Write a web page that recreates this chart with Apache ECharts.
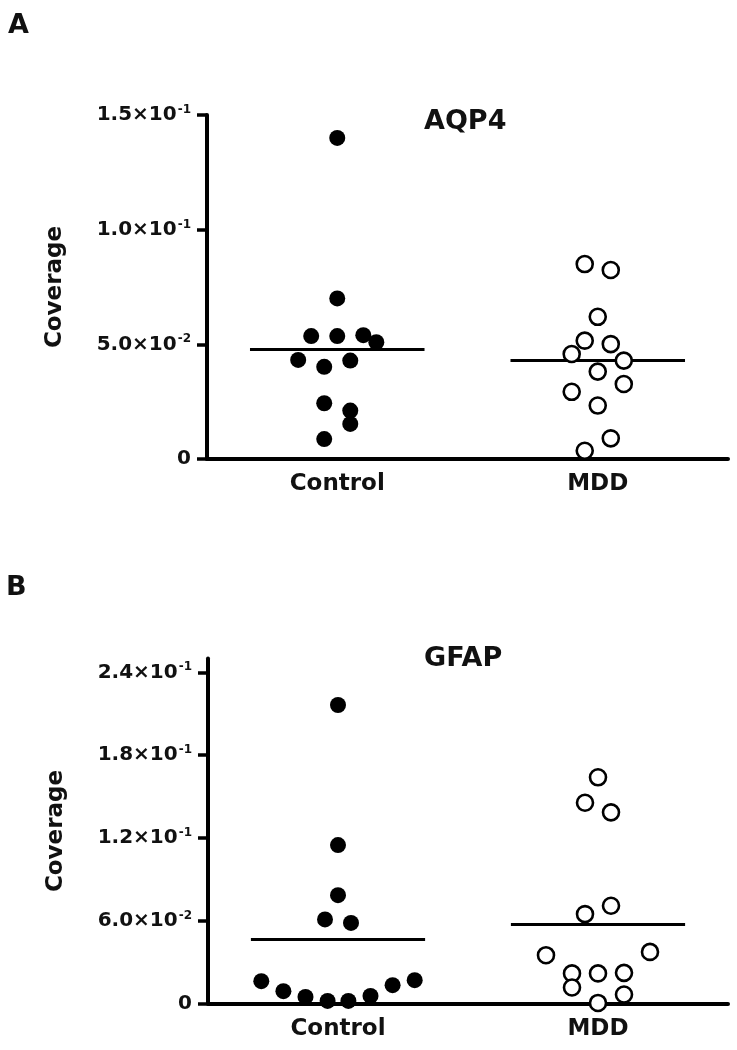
<!DOCTYPE html>
<html><head><meta charset="utf-8">
<script src="https://cdn.jsdelivr.net/npm/echarts@6/dist/echarts.min.js"></script>
<style>html,body{margin:0;padding:0;background:#fff}#c{width:737px;height:1050px}</style>
</head><body><div id="c"></div>
<script>
// ---- data ----
const groups = ['Control', 'MDD'];
const aqp4Control = [0.140, 0.070, 0.0536, 0.0536, 0.0540, 0.0509, 0.0432, 0.0402, 0.0429, 0.0243, 0.0211, 0.0153, 0.0087];
const aqp4MDD = [0.0850, 0.0824, 0.0620, 0.0516, 0.0501, 0.0458, 0.0429, 0.0381, 0.0327, 0.0293, 0.0233, 0.0090, 0.0036];
const gfapControl = [0.2163, 0.1148, 0.0785, 0.0609, 0.0584, 0.0162, 0.0089, 0.0048, 0.0019, 0.0019, 0.0055, 0.0133, 0.0169];
const gfapMDD = [0.1639, 0.1455, 0.1385, 0.0708, 0.0648, 0.0350, 0.0374, 0.0218, 0.0218, 0.0222, 0.0116, 0.0065, 0.0004];
const aqp4Means = [0.0478, 0.0429];
const gfapMeans = [0.0464, 0.0573];
const aqp4TickValues = [0, 0.05, 0.10, 0.15];
const aqp4TickMantissa = ['0', '5.0×10', '1.0×10', '1.5×10'];
const aqp4TickExponent = ['', '-2', '-1', '-1'];
const gfapTickValues = [0, 0.06, 0.12, 0.18, 0.24];
const gfapTickMantissa = ['0', '6.0×10', '1.2×10', '1.8×10', '2.4×10'];
const gfapTickExponent = ['', '-2', '-1', '-1', '-1'];
// horizontal spread of the dot plot (fraction of a category width)
const aqp4ControlJitter = [0, 0, -0.1, 0, 0.1, 0.15, -0.15, -0.05, 0.05, -0.05, 0.05, 0.05, -0.05];
const aqp4MDDJitter = [-0.05, 0.05, 0, -0.05, 0.05, -0.1, 0.1, 0, 0.1, -0.1, 0, 0.05, -0.05];
const gfapControlJitter = [0, 0, 0, -0.05, 0.05, -0.295, -0.21, -0.125, -0.04, 0.04, 0.125, 0.21, 0.295];
const gfapMDDJitter = [0, -0.05, 0.05, 0.05, -0.05, -0.2, 0.2, -0.1, 0, 0.1, -0.1, 0.1, 0];

// ---- styling / layout ----
const FONT = 'DejaVu Sans';
const INK = '#000';
const TXT = '#111';
const MEAN_HALF = 0.335;

function tickFormatter(vals, mant, expo) {
  return function (v) {
    for (let i = 0; i < vals.length; i++) {
      if (Math.abs(vals[i] - v) < 1e-9) {
        return expo[i] ? '{m|' + mant[i] + '}{s|' + expo[i] + '}' : '{m|' + mant[i] + '}';
      }
    }
    return '';
  };
}
function xAxisFor(gi) {
  return {
    type: 'value', gridIndex: gi, min: 0, max: 2,
    axisLine: { show: true, onZero: false, lineStyle: { color: INK, width: 4 } },
    axisTick: { show: false },
    splitLine: { show: false },
    axisLabel: {
      customValues: [0.5, 1.5],
      formatter: v => groups[Math.round(v - 0.5)],
      fontFamily: FONT, fontWeight: 'bold', fontSize: 23, color: TXT, margin: 14
    }
  };
}
function yAxisFor(gi, max, vals, mant, expo) {
  return {
    type: 'value', gridIndex: gi, min: 0, max: max,
    axisLine: { show: true, lineStyle: { color: INK, width: 4 } },
    axisTick: { show: true, length: 10, customValues: vals, lineStyle: { color: INK, width: 3.5 } },
    splitLine: { show: false },
    axisLabel: {
      customValues: vals, formatter: tickFormatter(vals, mant, expo),
      margin: 16,
      rich: {
        m: { fontFamily: FONT, fontWeight: 'bold', fontSize: 20, color: TXT, lineHeight: 22 },
        s: { fontFamily: FONT, fontWeight: 'bold', fontSize: 12, color: TXT, lineHeight: 12, verticalAlign: 'top', padding: [0, 0, 0, 1] }
      }
    },
    name: 'Coverage', nameLocation: 'middle', nameRotate: 90, nameGap: 140,
    nameTextStyle: { fontFamily: FONT, fontWeight: 'bold', fontSize: 23, color: TXT }
  };
}
function meanSeries(gi, means) {
  return means.map((m, k) => {
    const c = k + 0.5;
    return {
      type: 'line', xAxisIndex: gi, yAxisIndex: gi, z: 1, silent: true,
      symbol: 'none', lineStyle: { color: INK, width: 3, opacity: 1 },
      data: [[c - MEAN_HALF, m], [c + MEAN_HALF, m]]
    };
  });
}
function dots(gi, vals, jit, k, filled) {
  return {
    type: 'scatter', xAxisIndex: gi, yAxisIndex: gi, z: 3, silent: true,
    symbol: 'circle', symbolSize: 16,
    itemStyle: filled ? { color: INK, opacity: 1 } : { color: '#fff', borderColor: INK, borderWidth: 2.6, opacity: 1 },
    data: vals.map((v, i) => [k + 0.5 + jit[i], v])
  };
}

const chart = echarts.init(document.getElementById('c'), null, { renderer: 'canvas' });
const titleStyle = (fs) => ({ fontFamily: FONT, fontWeight: 'bold', fontSize: fs, color: TXT });
chart.setOption({
  animation: false,
  backgroundColor: '#fff',
  title: [
    { text: 'A', left: 8, top: 12, padding: 0, textStyle: titleStyle(27) },
    { text: 'AQP4', left: 424, top: 108, padding: 0, textStyle: titleStyle(27) },
    { text: 'B', left: 6, top: 574, padding: 0, textStyle: titleStyle(27) },
    { text: 'GFAP', left: 424, top: 645, padding: 0, textStyle: titleStyle(27) }
  ],
  grid: [
    { left: 207, right: 9, top: 115, height: 344, containLabel: false, outerBoundsMode: 'none' },
    { left: 208, right: 9, top: 658.5, height: 345, containLabel: false, outerBoundsMode: 'none' }
  ],
  xAxis: [xAxisFor(0), xAxisFor(1)],
  yAxis: [
    yAxisFor(0, 0.15, aqp4TickValues, aqp4TickMantissa, aqp4TickExponent),
    yAxisFor(1, 0.25, gfapTickValues, gfapTickMantissa, gfapTickExponent)
  ],
  series: [].concat(
    meanSeries(0, aqp4Means),
    meanSeries(1, gfapMeans),
    [
      dots(0, aqp4Control, aqp4ControlJitter, 0, true),
      dots(0, aqp4MDD, aqp4MDDJitter, 1, false),
      dots(1, gfapControl, gfapControlJitter, 0, true),
      dots(1, gfapMDD, gfapMDDJitter, 1, false)
    ]
  )
});
</script>
</body></html>
